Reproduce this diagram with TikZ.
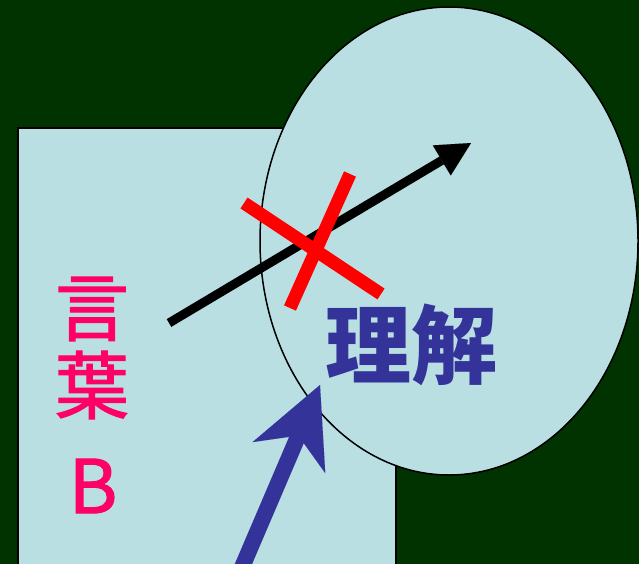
\documentclass[tikz,border=0pt]{standalone}
\usepackage{fontspec}
\newfontfamily\jp{Noto Sans CJK JP}
\newfontfamily\jpmid[FakeBold=1.6]{Noto Sans CJK JP}
\usetikzlibrary{arrows.meta}
\definecolor{bgdark}{HTML}{003300}
\definecolor{pale}{HTML}{BADFE3}
\definecolor{pinkred}{HTML}{FF0066}
\definecolor{navy}{HTML}{333399}
\tikzset{
  wordtext/.style={inner sep=0pt, text=pinkred, font=\jpmid\fontsize{74}{74}\selectfont},
  understand/.style={inner sep=0pt, text=navy, font=\jp\bfseries\fontsize{86}{86}\selectfont},
  crossline/.style={draw=red, line width=13pt},
}
\begin{document}
\begin{tikzpicture}[x=1pt,y=-1pt]
\useasboundingbox (0,0) rectangle (639,564);
\fill[bgdark] (0,0) rectangle (639,564);
\draw[fill=pale, line width=2pt] (18,128) rectangle (396,580);
\draw[fill=pale, line width=1.5pt] (449,241) ellipse [x radius=189, y radius=234];
\node[wordtext] (w1) at (92,309) {言};
\node[wordtext] (w2) at (92,385) {葉};
\node[wordtext] (wb) at (93,486) {B};
\node[understand] (u) at (411,345) {理解};
\coordinate (a1) at (169,323);
\coordinate (a2) at (471,143);
\draw[line width=9pt, -{Triangle[length=34pt,width=35pt,line width=0.01pt]}] (a1) -- (a2);
\coordinate (x1) at (244,203);
\coordinate (x2) at (381,294);
\coordinate (x3) at (350,174);
\coordinate (x4) at (290,308);
\draw[crossline] (x1) -- (x2);
\draw[crossline] (x3) -- (x4);
\coordinate (b1) at (240,572);
\coordinate (b2) at (320,385);
\draw[navy, line width=16pt, -{Stealth[length=79pt,width=79pt,inset=24pt,line width=0.01pt]}] (b1) -- (b2);
\end{tikzpicture}
\end{document}
